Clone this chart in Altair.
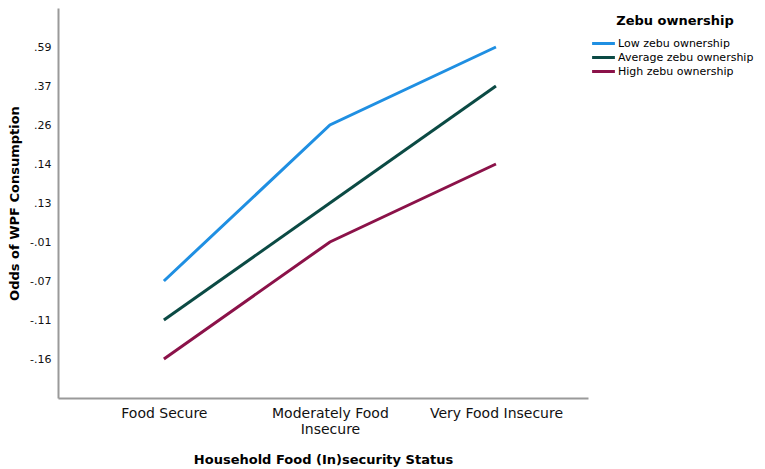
import altair as alt
import pandas as pd

statuses = ["Food Secure", "Moderately Food Insecure", "Very Food Insecure"]
groups = ["Low zebu ownership", "Average zebu ownership", "High zebu ownership"]
y_ticks = [".59", ".37", ".26", ".14", ".13", "-.01", "-.07", "-.11", "-.16"]
low_vals = ["-.07", ".26", ".59"]
avg_vals = ["-.11", ".13", ".37"]
high_vals = ["-.16", "-.01", ".14"]
colors = ["#1f8fe2", "#0b4a44", "#8b1249"]

rows = []
for g, vals in zip(groups, [low_vals, avg_vals, high_vals]):
    for s, v in zip(statuses, vals):
        rows.append({"status": s, "odds": v, "group": g})
df = pd.DataFrame(rows)

FONT = "DejaVu Sans"

chart = alt.Chart(df).mark_line(strokeWidth=3).encode(
    x=alt.X("status:N", sort=statuses,
            scale=alt.Scale(type="point", domain=statuses, padding=0.596, align=0.535),
            axis=alt.Axis(title="Household Food (In)security Status",
                          labelAngle=0, ticks=False, labelPadding=8,
                          labelFontSize=14, labelFont=FONT, labelColor="#111",
                          labelExpr="datum.value == 'Moderately Food Insecure' ? ['Moderately Food', 'Insecure'] : datum.value",
                          labelLineHeight=16,
                          titleFontSize=13, titleFont=FONT, titleFontWeight="bold",
                          titlePadding=17, titleColor="#000",
                          domainColor="#9a9a9a", domainWidth=2)),
    y=alt.Y("odds:N", sort=y_ticks,
            scale=alt.Scale(type="point", domain=y_ticks, padding=1),
            axis=alt.Axis(title="Odds of WPF Consumption",
                          ticks=False, labelPadding=7,
                          labelFontSize=11, labelFont=FONT, labelColor="#111",
                          titleFontSize=13, titleFont=FONT, titleFontWeight="bold",
                          titlePadding=8, titleColor="#000",
                          domainColor="#9a9a9a", domainWidth=2)),
    color=alt.Color("group:N", sort=groups,
                    scale=alt.Scale(domain=groups, range=colors),
                    legend=alt.Legend(title="Zebu ownership", orient="none",
                                      legendX=538, legendY=7,
                                      symbolType="M-1.9,0L1.9,0", symbolSize=144,
                                      symbolStrokeWidth=3, labelOffset=7,
                                      titleFontSize=13, titleFont=FONT,
                                      titleFontWeight="bold", titleColor="#000",
                                      titleAnchor="middle", titlePadding=8,
                                      labelFontSize=11, labelFont=FONT,
                                      labelColor="#000", rowPadding=0)),
).properties(
    width=530, height=390,
    padding={"left": 0, "top": 0, "right": 0, "bottom": 5},
).configure_view(strokeWidth=0)

chart.save("out.html", embed_options={"renderer": "svg", "actions": False})
